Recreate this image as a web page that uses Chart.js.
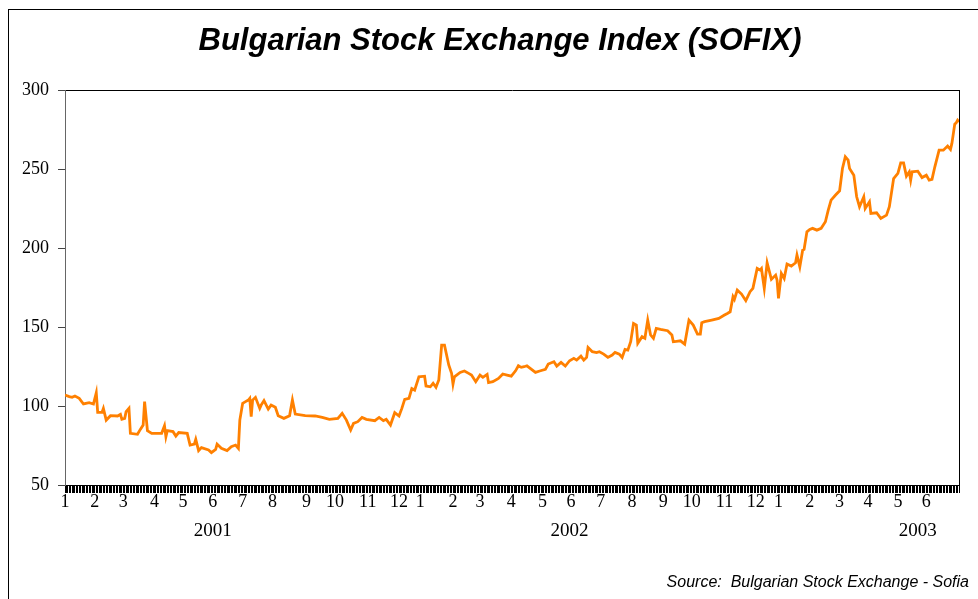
<!DOCTYPE html>
<html>
<head>
<meta charset="utf-8">
<script src="https://cdn.jsdelivr.net/npm/chart.js@4/dist/chart.umd.min.js"></script>
<style>
  html, body { margin: 0; padding: 0; background: #fff; overflow: hidden; }
  .wrap { position: relative; width: 978px; height: 599px; overflow: hidden; }
  .frame { position: absolute; left: 8px; top: 9px; width: 1000px; height: 700px; border: 1px solid #000; }
  canvas { position: absolute; left: 0; top: 0; }
</style>
</head>
<body>
<div class="wrap">
  <div class="frame"></div>
  <canvas id="chart" width="978" height="599"></canvas>
</div>
<script>
// x = trading day number (day 0 = first session of January 2001), y = SOFIX
const sofix2001 = [
  [0, 107.0], [3, 106.0], [5, 105.5], [7, 106.3], [10, 104.9], [13, 101.3], [17, 102.1], [20, 101.3],
  [22, 108.4], [23, 96.0], [26, 96.0], [27, 98.5], [29, 91.1], [32, 93.9], [37, 93.7], [39, 94.7],
  [40, 91.6], [42, 92.2], [43, 96.4], [45, 98.5], [46, 82.7], [51, 82.1], [53, 85.2], [55, 88.0],
  [56, 102.8], [58, 84.4], [61, 82.7], [68, 82.7], [70, 87.5], [71, 80.6], [72, 84.4], [76, 83.8],
  [78, 81.0], [80, 83.2], [86, 82.7], [88, 75.3], [91, 75.9], [92, 78.9], [94, 71.8], [96, 73.7],
  [101, 72.2], [103, 70.5], [106, 72.6], [107, 75.9], [110, 73.2], [114, 71.8], [117, 74.3], [120, 75.3],
  [122, 73.2], [123, 91.1], [125, 101.7], [127, 102.8], [129, 103.8], [130, 104.9], [131, 93.3], [132, 103.8],
  [134, 105.5], [137, 98.5], [138, 100.6], [140, 103.4], [143, 98.1], [145, 100.6], [148, 99.2], [150, 93.9],
  [154, 92.2], [158, 93.9], [160, 103.8], [162, 94.9], [169, 93.9], [176, 93.7], [181, 92.8], [186, 91.6],
  [192, 92.2], [195, 95.4], [198, 91.1], [201, 84.8], [203, 89.0], [206, 90.1], [209, 92.8], [212, 91.6],
  [218, 90.7], [221, 92.8], [224, 90.7], [226, 91.6], [229, 88.0], [232, 95.8], [235, 93.7], [237, 98.5],
  [239, 104.2], [242, 104.9], [244, 111.1], [246, 110.1], [249, 118.5]
];
const sofix2002 = [
  [253, 118.9], [254, 112.7], [257, 112.2], [259, 114.4], [261, 111.9], [263, 116.5], [265, 138.6], [267, 138.6],
  [270, 126.0], [272, 120.7], [273, 113.9], [274, 118.5], [278, 121.3], [281, 122.2], [284, 120.7], [286, 119.6],
  [289, 115.4], [292, 119.6], [294, 118.2], [297, 120.1], [298, 114.8], [301, 115.4], [305, 117.5], [308, 120.3],
  [311, 119.6], [314, 118.9], [317, 122.3], [319, 125.5], [321, 124.5], [323, 124.9], [325, 125.5], [328, 123.4],
  [331, 121.3], [334, 122.2], [338, 123.2], [340, 126.6], [344, 128.1], [346, 125.3], [349, 127.6], [352, 125.3],
  [355, 128.7], [358, 130.2], [360, 129.1], [363, 131.6], [365, 129.1], [367, 130.8], [368, 137.1], [371, 134.4],
  [374, 133.8], [376, 134.4], [379, 132.9], [382, 130.8], [385, 132.3], [387, 134.0], [390, 132.9], [392, 130.8],
  [394, 135.9], [396, 135.4], [398, 140.7], [400, 152.3], [402, 151.3], [403, 139.7], [406, 143.9], [408, 142.9],
  [410, 154.4], [412, 145.0], [414, 142.9], [416, 149.2], [419, 148.5], [424, 147.7], [427, 145.0], [428, 140.7],
  [433, 141.3], [436, 139.2], [439, 154.4], [442, 151.3], [445, 145.6], [447, 145.6], [448, 152.7], [450, 153.4],
  [455, 154.4], [460, 155.5], [464, 157.6], [466, 158.6], [468, 159.7], [470, 169.2], [471, 167.5], [473, 173.4],
  [476, 170.9], [479, 166.7], [482, 172.4], [484, 174.5], [487, 187.1], [489, 186.1], [490, 187.1], [492, 174.5],
  [494, 190.7], [497, 180.2], [500, 182.9], [501, 179.7]
];
const sofix2003 = [
  [502, 168.2], [504, 184.0], [506, 180.8], [508, 189.9], [511, 188.6], [514, 190.7], [515, 195.6], [517, 188.2],
  [519, 198.7], [520, 199.2], [522, 210.3], [524, 211.8], [526, 212.5], [529, 211.4], [532, 212.5], [535, 216.7],
  [537, 224.1], [539, 230.4], [542, 233.5], [545, 236.3], [547, 250.4], [549, 257.8], [551, 255.7], [552, 250.4],
  [555, 246.2], [557, 232.5], [559, 226.2], [562, 232.5], [563, 225.1], [566, 229.3], [567, 222.0], [571, 222.4],
  [574, 218.8], [578, 220.9], [580, 226.2], [583, 244.1], [586, 247.3], [588, 254.0], [590, 254.0], [592, 245.6],
  [594, 248.3], [595, 243.0], [596, 248.3], [600, 248.7], [603, 244.7], [606, 246.2], [608, 243.0], [610, 243.5],
  [612, 251.5], [615, 262.0], [618, 262.0], [621, 264.6], [623, 262.5], [624, 266.3], [626, 278.5], [627, 279.3],
  [628, 281.0], [629, 279.9]
];

// axis labels: first trading day of each month, and where the year names sit
const monthStartDays = [0, 21, 41, 63, 83, 104, 125, 146, 170, 190, 213, 235,
  250, 273, 292, 314, 336, 356, 377, 399, 421, 441, 464, 486,
  502, 524, 545, 565, 586, 606];
const monthLabels = ["1", "2", "3", "4", "5", "6", "7", "8", "9", "10", "11", "12",
  "1", "2", "3", "4", "5", "6", "7", "8", "9", "10", "11", "12",
  "1", "2", "3", "4", "5", "6"];
const yearDays = [104, 355, 600];
const yearLabels = ["2001", "2002", "2003"];
const lastDay = 629;
const yMin = 50, yMax = 300, yStep = 50;
const sourceNote = "Source:  Bulgarian Stock Exchange - Sofia";

const points = sofix2001.concat(sofix2002, sofix2003).map(p => ({ x: p[0], y: p[1] }));

const serif = "'Liberation Serif', 'Times New Roman', serif";
const sans = "'Liberation Sans', Arial, sans-serif";

// source line in the bottom right corner
const sourcePlugin = {
  id: "sourceNote",
  afterDraw(chart) {
    const c = chart.ctx;
    c.save();
    c.font = "italic 16px " + sans;
    c.fillStyle = "#000";
    c.textAlign = "right";
    c.textBaseline = "alphabetic";
    c.fillText(sourceNote, 969, 587);
    c.restore();
  },
};

const config = {
  type: "line",
  data: {
    datasets: [{
      label: "SOFIX",
      data: points,
      borderColor: "#ff8000",
      borderWidth: 2.8,
      pointRadius: 0,
      tension: 0,
      fill: false,
    }],
  },
  options: {
    responsive: false,
    animation: false,
    events: [],
    // negative right padding so the full-width title is centred where the original is
    layout: { padding: { left: 0, right: -22, top: 0, bottom: 0 } },
    plugins: {
      legend: { display: false },
      tooltip: { enabled: false },
      title: {
        display: true,
        text: "Bulgarian Stock Exchange Index (SOFIX)",
        color: "#000",
        font: { family: sans, size: 31, weight: "bold", style: "italic", lineHeight: 1.2 },
        padding: { top: 23, bottom: 30 },
      },
    },
    scales: {
      x: {
        type: "linear",
        position: "bottom",
        min: 0,
        max: lastDay,
        afterBuildTicks: (scale) => {
          const t = [];
          for (let i = 0; i <= lastDay; i++) t.push({ value: i });
          scale.ticks = t;
        },
        afterFit: (scale) => { scale.height = 37; },
        ticks: {
          autoSkip: false,
          maxRotation: 0,
          minRotation: 0,
          padding: 0,
          color: "#000",
          font: { family: serif, size: 18, lineHeight: 1 },
          callback: (value) => {
            const k = monthStartDays.indexOf(value);
            return k >= 0 ? monthLabels[k] : "";
          },
        },
        grid: { drawOnChartArea: false, tickLength: 8, color: "#000", lineWidth: 1 },
        border: { display: true, color: "#000" },
      },
      x2: {
        type: "linear",
        position: "bottom",
        min: 0,
        max: lastDay,
        afterBuildTicks: (scale) => { scale.ticks = yearDays.map(v => ({ value: v })); },
        afterFit: (scale) => { scale.height = 77; },
        ticks: {
          autoSkip: false,
          maxRotation: 0,
          minRotation: 0,
          padding: 0,
          color: "#000",
          font: { family: serif, size: 19, lineHeight: 1 },
          callback: (value) => yearLabels[yearDays.indexOf(value)],
        },
        grid: { display: false, drawTicks: false },
        border: { display: false },
      },
      xTop: {
        type: "linear",
        position: "top",
        ticks: { display: false },
        grid: { display: false, drawTicks: false },
        border: { display: true, color: "#000" },
        afterFit: (scale) => { scale.height = 0; },
      },
      y: {
        type: "linear",
        position: "left",
        min: yMin,
        max: yMax,
        afterFit: (scale) => { scale.width = 65; },
        ticks: {
          stepSize: yStep,
          padding: 9,
          color: "#000",
          font: { family: serif, size: 18 },
        },
        grid: { drawOnChartArea: false, tickLength: 7, color: "#444" },
        border: { display: true, color: "#666" },
      },
      yRight: {
        type: "linear",
        position: "right",
        ticks: { display: false },
        grid: { display: false, drawTicks: false },
        border: { display: true, color: "#000" },
        afterFit: (scale) => { scale.width = 41; },
      },
    },
  },
  plugins: [sourcePlugin],
};

const ctx = document.getElementById("chart").getContext("2d");
new Chart(ctx, config);
</script>
</body>
</html>
